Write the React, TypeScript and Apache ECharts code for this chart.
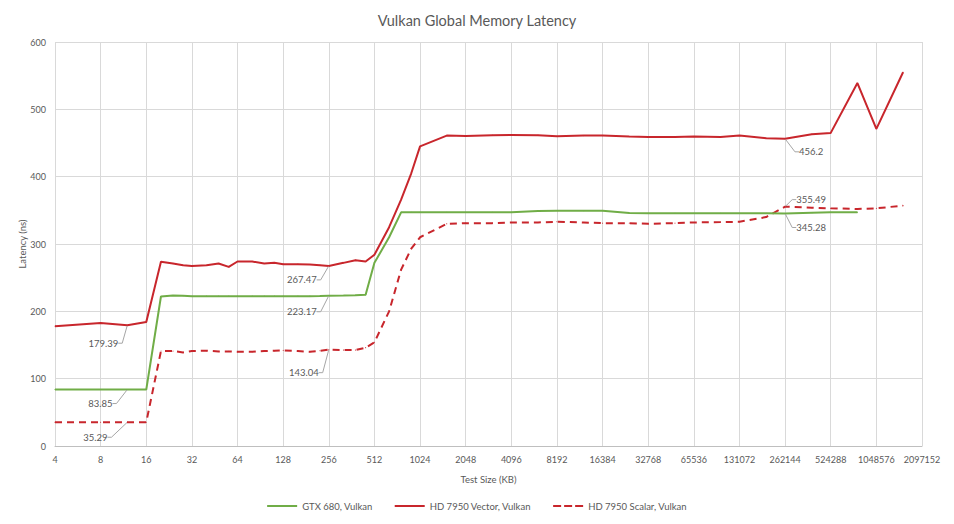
import React, { useEffect, useRef } from "react";
import * as echarts from "echarts";

// Test sizes in KB
const SIZES = [
  4, 8, 12, 16, 20, 24, 28, 32, 40, 48, 56, 64, 80, 96, 112, 128, 160, 192, 224, 256,
  320, 384, 448, 512, 640, 768, 896, 1024, 1536, 2048, 3072, 4096, 6144, 8192, 12288,
  16384, 24576, 32768, 49152, 65536, 98304, 131072, 196608, 262144, 393216, 524288,
  786432, 1048576, 1572864,
];

const GTX680 = [
  83.85, 83.85, 83.85, 83.85, 222, 223.5, 223, 222.5, 222.5, 222.5, 222.5, 222.5, 222.5,
  222.5, 222.5, 222.5, 222.5, 222.5, 222.8, 223.17, 223.5, 224, 224.5, 272, 310, 347,
  347, 347, 347, 347, 347, 347, 349, 349.5, 349.5, 349.5, 346, 345.5, 345.5, 345.5,
  345.5, 345.5, 345.5, 345.28, 346.5, 347, 347, null, null,
];

const HD7950_VECTOR = [
  178, 182.5, 179.39, 184, 273.5, 271, 268.5, 267.5, 268.5, 271, 266, 274, 274, 271, 272,
  270, 270, 269.5, 268.5, 267.47, 272, 276, 274, 284, 325, 366, 405, 445, 461, 460.5,
  461.5, 462, 461.5, 460, 461, 461, 459.5, 459, 459, 459.5, 459, 461, 457, 456.2, 463,
  465, 539, 471, 555,
];

const HD7950_SCALAR = [
  35.29, 35.29, 35.29, 35.29, 141, 141, 139, 141, 141.5, 140.5, 140.5, 140, 140, 141,
  141.5, 142, 141, 140, 141.5, 143.04, 142.5, 142.5, 146, 154, 200, 262, 293, 310, 330,
  331, 331, 332, 332, 333, 332, 331, 331, 330, 331, 332, 332.5, 333, 340, 355.49, 354,
  353, 352, 353, 357,
];

const SERIES_NAMES = ["GTX 680, Vulkan", "HD 7950 Vector, Vulkan", "HD 7950 Scalar, Vulkan"];

const X_TICK_LABELS = [
  "4", "8", "16", "32", "64", "128", "256", "512", "1024", "2048", "4096", "8192",
  "16384", "32768", "65536", "131072", "262144", "524288", "1048576", "2097152",
];

// indices of labelled points
const LABELLED_POINTS = [2, 19, 43];

// label offsets (px) per series, keyed by data index
const LABEL_OFFSETS: Record<number, Record<number, [number, number]>> = {
  0: { 2: [-27, 14], 19: [-27, 16], 43: [26, 14] },
  1: { 2: [-24, 18], 19: [-27, 14], 43: [26, 13] },
  2: { 2: [-32, 15], 19: [-25, 23], 43: [26, -7] },
};

const COLORS = ["#70ad47", "#c8262c", "#c8262c"];
const FONT = "Lato, 'Open Sans', sans-serif";
const TEXT = "#595959";

function buildData(values: (number | null)[]) {
  return SIZES.map((s, i) => {
    const v = values[i];
    const point = [Math.log2(s), v === null ? null : v];
    if (LABELLED_POINTS.includes(i) && v !== null) {
      return {
        value: point,
        label: { show: true },
        labelLine: { show: true },
      };
    }
    return point;
  });
}

export default function App() {
  const ref = useRef<HTMLDivElement>(null);

  useEffect(() => {
    if (!ref.current) return;
    const chart = echarts.init(ref.current, undefined, { renderer: "svg" });

    const mkSeries = (idx: number, values: (number | null)[], dashed: boolean) => ({
      name: SERIES_NAMES[idx],
      type: "line",
      data: buildData(values),
      showSymbol: true,
      symbol: "circle",
      symbolSize: 1,
      connectNulls: false,
      itemStyle: { color: COLORS[idx] },
      lineStyle: {
        color: COLORS[idx],
        width: 2,
        type: dashed ? [7, 5] : "solid",
      },
      label: {
        show: false,
        position: "inside",
        color: TEXT,
        fontFamily: FONT,
        fontSize: 9.5,
        formatter: (p: any) => String(p.value[1]),
      },
      labelLine: {
        show: false,
        length2: 4,
        smooth: false,
        lineStyle: { color: "#a6a6a6", width: 1 },
      },
      labelLayout: (p: any) => {
        const off = LABEL_OFFSETS[idx][p.dataIndex];
        if (!off) return {};
        const cx = p.rect.x + p.rect.width / 2;
        const cy = p.rect.y + p.rect.height / 2;
        return { x: cx + off[0], y: cy + off[1], align: "center", verticalAlign: "middle" };
      },
      emphasis: { disabled: true },
      z: idx === 0 ? 3 : 2,
    });

    chart.setOption({
      animation: false,
      backgroundColor: "#ffffff",
      title: {
        text: "Vulkan Global Memory Latency",
        left: "center",
        top: 8,
        textStyle: { color: TEXT, fontFamily: FONT, fontSize: 14.5, fontWeight: "normal" },
      },
      grid: { left: 55, right: 32, top: 42, bottom: 78 },
      legend: {
        bottom: 8,
        left: "center",
        itemWidth: 30,
        itemHeight: 3,
        itemGap: 22,
        textStyle: { color: TEXT, fontFamily: FONT, fontSize: 9.5 },
        data: [
          { name: SERIES_NAMES[0], icon: "path://M0,0H30V2H0Z" },
          { name: SERIES_NAMES[1], icon: "path://M0,0H30V2H0Z" },
          {
            name: SERIES_NAMES[2],
            icon: "path://M0,0H8V2H0ZM11,0H19V2H11ZM22,0H30V2H22Z",
          },
        ],
      },
      xAxis: {
        type: "value",
        min: 2,
        max: 21,
        interval: 1,
        name: "Test Size (KB)",
        nameLocation: "middle",
        nameGap: 28,
        nameMoveOverlap: false,
        nameTextStyle: { color: TEXT, fontFamily: FONT, fontSize: 9.5 },
        axisLine: { show: true, lineStyle: { color: "#bfbfbf" } },
        axisTick: { show: false },
        axisLabel: {
          color: TEXT,
          fontFamily: FONT,
          fontSize: 9,
          margin: 9,
          formatter: (v: number) => X_TICK_LABELS[Math.round(v) - 2] ?? "",
        },
        splitLine: { show: true, lineStyle: { color: "#d9d9d9" } },
      },
      yAxis: {
        type: "value",
        min: 0,
        max: 600,
        interval: 100,
        name: "Latency (ns)",
        nameLocation: "middle",
        nameGap: 28,
        nameMoveOverlap: false,
        nameTextStyle: { color: TEXT, fontFamily: FONT, fontSize: 9.5 },
        axisLine: { show: false },
        axisTick: { show: false },
        axisLabel: { color: TEXT, fontFamily: FONT, fontSize: 9, margin: 9 },
        splitLine: { show: true, lineStyle: { color: "#d9d9d9" } },
      },
      series: [
        mkSeries(0, GTX680, false),
        mkSeries(1, HD7950_VECTOR, false),
        mkSeries(2, HD7950_SCALAR, true),
      ],
    });

    return () => chart.dispose();
  }, []);

  return (
    <div
      ref={ref}
      style={{ position: "fixed", left: 0, top: 0, width: 954, height: 524 }}
    />
  );
}
